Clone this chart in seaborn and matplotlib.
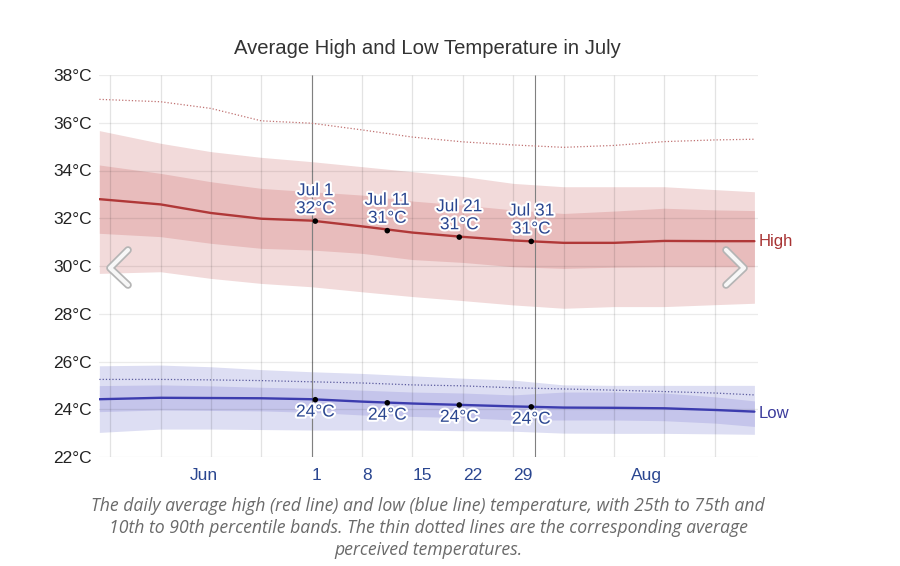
import numpy as np
import pandas as pd
import matplotlib
matplotlib.use("Agg")
import matplotlib.pyplot as plt
import seaborn as sns
from matplotlib import patheffects as pe
from matplotlib.lines import Line2D

# ---- data (days since Jul 1 00:00) ----
days = [-29.5, -21, -14, -7, 0, 7, 14, 21, 28, 35, 42, 49, 56, 61.5]
high_avg = [32.80, 32.58, 32.22, 31.98, 31.90, 31.66, 31.40, 31.22, 31.07, 30.97, 30.97, 31.05, 31.04, 31.04]
high_p25 = [31.37, 31.23, 30.95, 30.74, 30.67, 30.53, 30.27, 30.15, 29.97, 29.90, 29.95, 29.97, 29.97, 29.97]
high_p75 = [34.23, 33.88, 33.53, 33.25, 33.11, 32.97, 32.72, 32.55, 32.35, 32.20, 32.30, 32.42, 32.35, 32.32]
high_p10 = [29.69, 29.76, 29.48, 29.27, 29.13, 28.92, 28.72, 28.55, 28.37, 28.23, 28.30, 28.30, 28.38, 28.44]
high_p90 = [35.67, 35.14, 34.79, 34.55, 34.37, 34.16, 33.95, 33.75, 33.46, 33.32, 33.32, 33.32, 33.20, 33.11]
high_feel = [36.98, 36.88, 36.60, 36.08, 35.98, 35.70, 35.40, 35.20, 35.07, 34.97, 35.05, 35.21, 35.28, 35.31]

low_avg = [24.42, 24.48, 24.47, 24.46, 24.42, 24.32, 24.24, 24.18, 24.12, 24.07, 24.06, 24.04, 23.97, 23.90]
low_p25 = [23.90, 23.97, 23.95, 23.93, 23.87, 23.76, 23.70, 23.65, 23.55, 23.55, 23.55, 23.52, 23.42, 23.28]
low_p75 = [24.99, 25.02, 24.98, 24.92, 24.88, 24.80, 24.72, 24.68, 24.60, 24.72, 24.72, 24.68, 24.52, 24.35]
low_p10 = [23.03, 23.17, 23.17, 23.15, 23.13, 23.13, 23.13, 23.10, 23.08, 23.00, 22.99, 22.99, 22.97, 22.95]
low_p90 = [25.82, 25.85, 25.78, 25.66, 25.57, 25.50, 25.40, 25.30, 25.22, 25.02, 25.00, 25.00, 25.00, 25.00]
low_feel = [25.25, 25.25, 25.23, 25.20, 25.15, 25.10, 25.02, 24.98, 24.90, 24.85, 24.80, 24.74, 24.68, 24.60]

ann_days = [0.5, 10.5, 20.5, 30.5]
ann_names = ["Jul 1", "Jul 11", "Jul 21", "Jul 31"]
ann_high = [31.88, 31.48, 31.21, 31.03]
ann_low = [24.40, 24.27, 24.18, 24.10]

y_ticks = [22, 24, 26, 28, 30, 32, 34, 36, 38]
x_tick_pos = [-15, 0, 7, 14, 21, 28, 46.5]
x_tick_labels = ["Jun", "1", "8", "15", "22", "29", "Aug"]
week_lines = [-28, -21, -14, -7, 0, 7, 14, 21, 28, 35, 42, 49, 56]
month_lines = [0, 31]

title = "Average High and Low Temperature in July"
caption = ("The daily average high (red line) and low (blue line) temperature, with 25th to 75th and\n"
           "10th to 90th percentile bands. The thin dotted lines are the corresponding average\n"
           "perceived temperatures.")

df = pd.DataFrame({"day": days, "high": high_avg, "low": low_avg,
                   "high_feel": high_feel, "low_feel": low_feel})

sns.set_theme(style="white")
plt.rcParams["font.family"] = ["Liberation Sans", "DejaVu Sans"]

W, H = 900, 566
fig = plt.figure(figsize=(9, 5.66), dpi=100)
ax = fig.add_axes([99 / W, 1 - 457 / H, (758 - 99) / W, 382 / H])

RED_L, RED_D, RED = "#f2dada", "#e8bcbc", "#b03838"
BLU_L, BLU_D, BLU = "#dddef3", "#c5c5eb", "#3c3cae"
TXT = "#2a4690"

# bands
ax.fill_between(days, high_p10, high_p90, color=RED_L, lw=0, zorder=1)
ax.fill_between(days, high_p25, high_p75, color=RED_D, lw=0, zorder=1.1)
ax.fill_between(days, low_p10, low_p90, color=BLU_L, lw=0, zorder=1)
ax.fill_between(days, low_p25, low_p75, color=BLU_D, lw=0, zorder=1.1)

# grid
ax.set_ylim(22, 38)
ax.set_xlim(-29.55, 62.0)
ax.set_yticks(y_ticks)
ax.set_yticklabels([f"{t}°C" for t in y_ticks])
ax.yaxis.grid(True, color="#000000", alpha=0.08, lw=0.9, zorder=1.5)
ax.set_axisbelow(False)
ax.vlines(week_lines, 22, 38, color="#000000", alpha=0.11, lw=0.9, zorder=1.5)
ax.vlines(month_lines, 22, 38, color="#808080", lw=0.8, zorder=1.6)

# lines
sns.lineplot(data=df, x="day", y="high", color=RED, lw=1.7, ax=ax, zorder=3)
sns.lineplot(data=df, x="day", y="low", color=BLU, lw=1.7, ax=ax, zorder=3)
sns.lineplot(data=df, x="day", y="high_feel", color="#c07272", lw=0.9,
             linestyle=(0, (1, 1.6)), ax=ax, zorder=3)
sns.lineplot(data=df, x="day", y="low_feel", color="#5b5b9e", lw=0.9,
             linestyle=(0, (1, 1.6)), ax=ax, zorder=3)

# dots
sns.scatterplot(x=ann_days, y=ann_high, color="black", s=16, edgecolor="none", ax=ax, zorder=5)
sns.scatterplot(x=ann_days, y=ann_low, color="black", s=16, edgecolor="none", ax=ax, zorder=5)

halo = [pe.withStroke(linewidth=3, foreground="white")]
for d, n, h, l in zip(ann_days, ann_names, ann_high, ann_low):
    ax.annotate(f"{n}\n{round(h)}°C", (d, h), xytext=(0, 3.5), textcoords="offset points",
                ha="center", va="bottom", fontsize=12.5, color=TXT, linespacing=1.25,
                path_effects=halo, zorder=6)
    ax.annotate(f"{round(l)}°C", (d, l), xytext=(0, -3.5), textcoords="offset points",
                ha="center", va="top", fontsize=12.5, color=TXT,
                path_effects=halo, zorder=6)

ax.annotate("High", (days[-1], high_avg[-1]), xytext=(3, 0), textcoords="offset points",
            ha="left", va="center", fontsize=12, color="#a83434", annotation_clip=False)
ax.annotate("Low", (days[-1], low_avg[-1]), xytext=(3, -1), textcoords="offset points",
            ha="left", va="center", fontsize=12, color="#3b3b9c", annotation_clip=False)

# axes styling
ax.set_xticks(x_tick_pos)
ax.set_xticklabels(x_tick_labels)
for lab, txt in zip(ax.get_xticklabels(), x_tick_labels):
    if txt.isdigit():
        lab.set_horizontalalignment("left")
ax.tick_params(axis="x", length=0, pad=8, labelsize=12.5, labelcolor=TXT)
ax.tick_params(axis="y", length=0, pad=5, labelsize=12.5, labelcolor="#222222")
ax.set_xlabel("")
ax.set_ylabel("")
for s in ax.spines.values():
    s.set_visible(False)
ax.set_facecolor("white")

# carousel chevrons (decoration)
def chevron(pts):
    xs = [p[0] / W for p in pts]
    ys = [1 - p[1] / H for p in pts]
    fig.add_artist(Line2D(xs, ys, transform=fig.transFigure, color="#b5b5b5", lw=5.5,
                          solid_capstyle="round", solid_joinstyle="round", zorder=10))
    fig.add_artist(Line2D(xs, ys, transform=fig.transFigure, color="#f7f7f7", lw=3,
                          solid_capstyle="round", solid_joinstyle="round", zorder=11))

chevron([(128, 250), (110, 268), (128, 285)])
chevron([(726, 250), (744, 268), (726, 285)])

fig.text(427 / W, 1 - 49 / H, title, ha="center", va="center", fontsize=14.6, color="#333333")
fig.text(428 / W, 1 - 528 / H, caption, ha="center", va="center", fontsize=12.7,
         color="#6a6a6a", style="italic", family=["Open Sans", "DejaVu Sans"], linespacing=1.3)

fig.savefig("out.png", dpi=100, facecolor="white")
